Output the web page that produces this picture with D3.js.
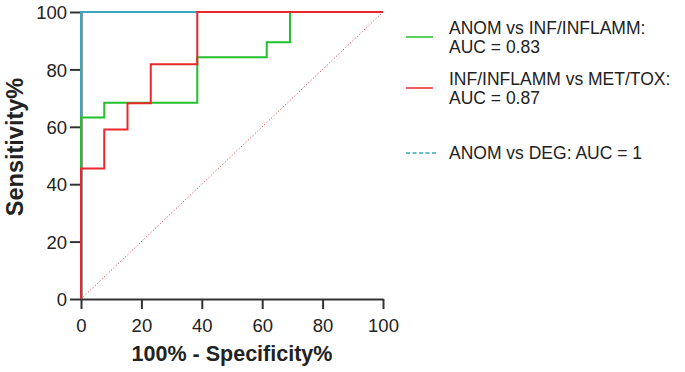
<!DOCTYPE html>
<html>
<head>
<meta charset="utf-8">
<script src="https://cdn.jsdelivr.net/npm/d3@7"></script>
<style>
  body { margin: 0; background: #fff; }
  #container { width: 685px; height: 372px; }
  text { font-family: "Liberation Sans", Arial, sans-serif; fill: #222; }
</style>
</head>
<body>
<div id="container"></div>
<script>
// data (percent)
let greenFpr = [0, 0, 7.7, 38.5, 61.5, 69.2, 100];
let greenTpr = [0, 63.2, 68.4, 84.2, 89.5, 100, 100];
let redFpr = [0, 0, 7.7, 15.4, 23.1, 38.5, 100];
let redTpr = [0, 45.5, 59.1, 68.2, 81.8, 100, 100];
let tealFpr = [0, 0, 100];
let tealTpr = [0, 100, 100];
let xTicks = [0, 20, 40, 60, 80, 100];
let yTicks = [0, 20, 40, 60, 80, 100];
let legendLabels = [
    ["ANOM vs INF/INFLAMM:", "AUC = 0.83"],
    ["INF/INFLAMM vs MET/TOX:", "AUC = 0.87"],
    ["ANOM vs DEG: AUC = 1"]
];

let colors = { green: "#22c02a", red: "#e8282c", teal: "#36a9c0" };

//画布
let width = 685, height = 372;
let svg = d3.select("#container")
    .append("svg")
    .attr("width", width)
    .attr("height", height);

//比例尺
let xScale = d3.scaleLinear().domain([0, 100]).range([81, 383]);
let yScale = d3.scaleLinear().domain([0, 100]).range([299, 12]);

//坐标轴
let xAxis = d3.axisBottom(xScale).tickValues(xTicks).tickSize(10).tickPadding(10).tickSizeOuter(0);
let yAxis = d3.axisLeft(yScale).tickValues(yTicks).tickSize(11).tickPadding(3).tickSizeOuter(0);

let xg = svg.append("g")
    .attr("transform", "translate(0," + yScale(0) + ")")
    .call(xAxis);
let yg = svg.append("g")
    .attr("transform", "translate(" + xScale(0) + ",0)")
    .call(yAxis);

[xg, yg].forEach(function (g) {
    g.select(".domain").attr("stroke", "#333").attr("stroke-width", 2);
    g.selectAll(".tick line").attr("stroke", "#333").attr("stroke-width", 2);
    g.selectAll(".tick text")
        .attr("fill", "#222")
        .style("font-size", "18.5px")
        .style("font-family", "'Liberation Sans', Arial, sans-serif");
});
yg.selectAll(".tick text").attr("dy", "0.36em");

// diagonal reference
svg.append("line")
    .attr("x1", xScale(0)).attr("y1", yScale(0))
    .attr("x2", xScale(100)).attr("y2", yScale(100))
    .attr("stroke", "#e8505a")
    .attr("stroke-width", 1)
    .attr("stroke-dasharray", "1.2,2");

let line = d3.line()
    .x(d => xScale(d[0]))
    .y(d => yScale(d[1]))
    .curve(d3.curveStepAfter);

let series = [
    { fpr: tealFpr, tpr: tealTpr, color: colors.teal },
    { fpr: greenFpr, tpr: greenTpr, color: colors.green },
    { fpr: redFpr, tpr: redTpr, color: colors.red }
];

series.forEach(function (s) {
    svg.append("path")
        .datum(s.fpr.map((x, i) => [x, s.tpr[i]]))
        .attr("d", line)
        .attr("fill", "none")
        .attr("stroke", s.color)
        .attr("stroke-width", 2);
});

// axis titles
svg.append("text")
    .attr("x", (xScale(0) + xScale(100)) / 2)
    .attr("y", 361)
    .attr("text-anchor", "middle")
    .style("font-size", "21.5px")
    .style("font-weight", "bold")
    .text("100% - Specificity%");

svg.append("text")
    .attr("transform", "translate(23,147) rotate(-90)")
    .attr("text-anchor", "middle")
    .style("font-size", "23.5px")
    .style("font-weight", "bold")
    .text("Sensitivity%");

// legend
let legendY = [37, 88, 153];
let legendColors = [colors.green, colors.red, colors.teal];
let legendDash = [null, null, "4,2.5"];

legendLabels.forEach(function (lines, i) {
    let g = svg.append("g");
    let cy = legendY[i];
    g.append("line")
        .attr("x1", 406).attr("x2", i == 2 ? 438 : 433)
        .attr("y1", cy).attr("y2", cy)
        .attr("stroke", legendColors[i])
        .attr("stroke-width", 1.5)
        .attr("stroke-dasharray", legendDash[i]);
    let lh = 19;
    let firstBase = cy + 6.3 - (lines.length - 1) * lh / 2;
    lines.forEach(function (t, j) {
        g.append("text")
            .attr("x", 449)
            .attr("y", firstBase + j * lh)
            .style("font-size", "17.5px")
            .text(t);
    });
});
</script>
</body>
</html>
